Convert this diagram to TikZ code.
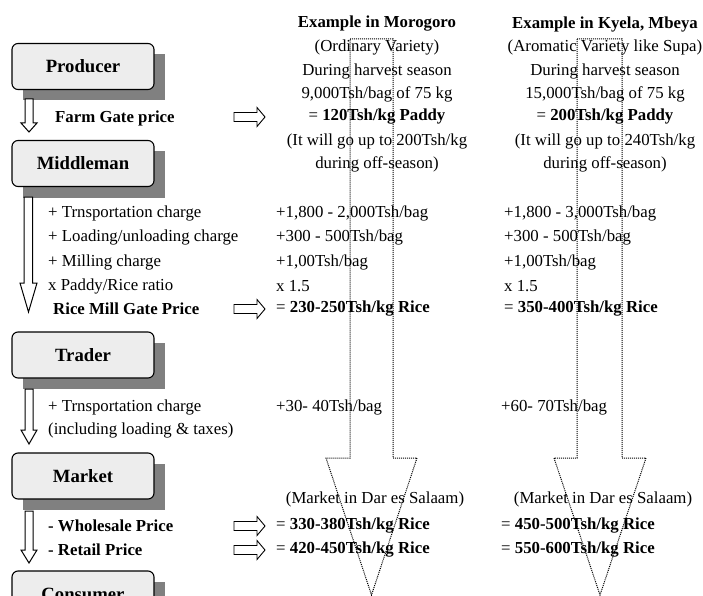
\documentclass[tikz,border=0pt]{standalone}
\usepackage{fontspec}
\setmainfont{Liberation Serif}
\begin{document}
\begin{tikzpicture}[x=1pt,y=-1pt,
  every node/.style={inner sep=0pt,font=\fontsize{16.8}{19}\selectfont},
  stage/.style={draw=black,line width=1.1pt,rounded corners=6pt,fill=gray!14,
    minimum width=142pt,minimum height=46pt,font=\fontsize{18.7}{21}\selectfont\bfseries},
  shade/.style={fill=black!50,draw=none},
  hollow/.style={draw=black,line width=1pt,fill=white,line join=miter},
  trend/.style={draw=black,line width=1pt,densely dotted},
  lbl/.style={anchor=west},
  bl/.style={anchor=west,font=\fontsize{16.8}{19}\selectfont\bfseries},
  ctr/.style={anchor=center}]
\useasboundingbox (0,0) rectangle (703,596);

% price trend arrows behind the two example columns
\draw[trend] (350,39) -- (393,39) -- (393,458) -- (417,458) -- (371.5,595)
  -- (326,458) -- (350,458) -- cycle;
\draw[trend] (577,39) -- (622,39) -- (622,458) -- (646,458) -- (600,595)
  -- (554,458) -- (577,458) -- cycle;

% stage boxes with drop shadows
\foreach \n/\t/\y in {prod/Producer/66.5, mid/Middleman/163.5, trad/Trader/355,
                      mkt/Market/476, cons/Consumer/594}{
  \fill[shade] (23,\y-12) rectangle (165,\y+34);
  \node[stage] (\n) at (83,\y) {\t};
}

% hollow arrows between the stages
\draw[hollow] (25,99) -- (33,99) -- (33,123) -- (37,123) -- (29,132) -- (21,123)
  -- (25,123) -- cycle;
\draw[hollow] (24,197) -- (32.5,197) -- (32.5,283) -- (37,283) -- (28.5,312)
  -- (20,283) -- (24,283) -- cycle;
\draw[hollow] (25,389) -- (33,389) -- (33,430) -- (37,430) -- (29,444) -- (21,430)
  -- (25,430) -- cycle;
\draw[hollow] (25,511) -- (33,511) -- (33,550) -- (37,550) -- (29,563) -- (21,550)
  -- (25,550) -- cycle;

% left-hand descriptions
\node[bl]  (fg)  at (55,118) {Farm Gate price};
\node[lbl] (t1)  at (48,213) {+ Trnsportation charge};
\node[lbl] (l1)  at (48,237) {+ Loading/unloading charge};
\node[lbl] (m1)  at (48,262) {+ Milling charge};
\node[lbl] (r1)  at (48,286) {x Paddy/Rice ratio};
\node[bl]  (rm)  at (53,309) {Rice Mill Gate Price};
\node[lbl] (t2)  at (48,407) {+ Trnsportation charge};
\node[lbl] (t3)  at (48,430) {(including loading \& taxes)};
\node[bl]  (wp)  at (48,526) {- Wholesale Price};
\node[bl]  (rp)  at (48,550) {- Retail Price};

% small pointer arrows
\foreach \y in {117,309,526,550}{
  \draw[hollow,line width=0.9pt] (234,\y-4.5) -- (257,\y-4.5) -- (257,\y-9.5)
    -- (265,\y) -- (257,\y+9.5) -- (257,\y+4.5) -- (234,\y+4.5) -- cycle;
}

% Morogoro column
\node[ctr,font=\fontsize{16.8}{19}\selectfont\bfseries] (mh) at (377,24) {Example in Morogoro};
\node[ctr] (mv)  at (377,47)  {(Ordinary Variety)};
\node[ctr] (ms)  at (377,71)  {During harvest season};
\node[ctr] (mb)  at (377,94)  {9,000Tsh/bag of 75 kg};
\node[ctr] (mp)  at (377,117) {= \textbf{120Tsh/kg Paddy}};
\node[ctr] (mo1) at (377,141) {(It will go up to 200Tsh/kg};
\node[ctr] (mo2) at (377,164) {during off-season)};
\node[lbl] (ma1) at (276,213) {+1,800 - 2,000Tsh/bag};
\node[lbl] (ma2) at (276,237) {+300 - 500Tsh/bag};
\node[lbl] (ma3) at (276,262) {+1,00Tsh/bag};
\node[lbl] (ma4) at (276,286) {x 1.5};
\node[lbl] (ma5) at (276,309) {= \textbf{230-250Tsh/kg Rice}};
\node[lbl] (ma6) at (276,407) {+30- 40Tsh/bag};
\node[ctr] (mdm) at (375,499) {(Market in Dar es Salaam)};
\node[lbl] (mw)  at (276,526) {= \textbf{330-380Tsh/kg Rice}};
\node[lbl] (mr)  at (276,550) {= \textbf{420-450Tsh/kg Rice}};

% Kyela column
\node[ctr,font=\fontsize{16.8}{19}\selectfont\bfseries] (kh) at (605,24) {Example in Kyela, Mbeya};
\node[ctr] (kv)  at (605,47)  {(Aromatic Variety like Supa)};
\node[ctr] (ks)  at (605,71)  {During harvest season};
\node[ctr] (kb)  at (605,94)  {15,000Tsh/bag of 75 kg};
\node[ctr] (kp)  at (605,117) {= \textbf{200Tsh/kg Paddy}};
\node[ctr] (ko1) at (605,141) {(It will go up to 240Tsh/kg};
\node[ctr] (ko2) at (605,164) {during off-season)};
\node[lbl] (ka1) at (504,213) {+1,800 - 3,000Tsh/bag};
\node[lbl] (ka2) at (504,237) {+300 - 500Tsh/bag};
\node[lbl] (ka3) at (504,262) {+1,00Tsh/bag};
\node[lbl] (ka4) at (504,286) {x 1.5};
\node[lbl] (ka5) at (504,309) {= \textbf{350-400Tsh/kg Rice}};
\node[lbl] (ka6) at (501,407) {+60- 70Tsh/bag};
\node[ctr] (kdm) at (603,499) {(Market in Dar es Salaam)};
\node[lbl] (kw)  at (501,526) {= \textbf{450-500Tsh/kg Rice}};
\node[lbl] (kr)  at (501,550) {= \textbf{550-600Tsh/kg Rice}};
\end{tikzpicture}
\end{document}
